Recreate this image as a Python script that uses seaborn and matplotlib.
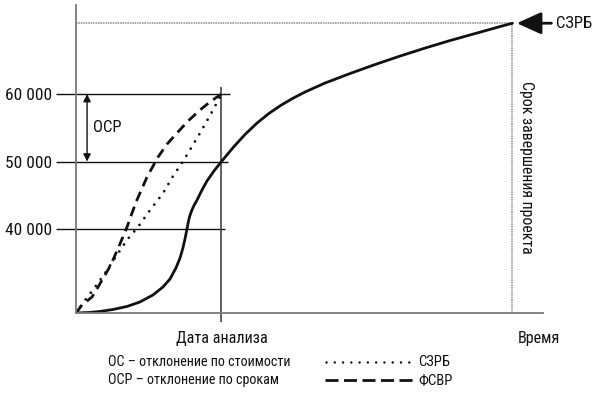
import matplotlib
matplotlib.use('Agg')
import matplotlib.pyplot as plt
from matplotlib.lines import Line2D
import seaborn as sns

# time axis: 0 = start, 10 = analysis date, 30 = planned completion
analysis_date = 10
completion = 30
budget_at_completion = 70500

solid_t = [0, 0.96, 1.65, 2.54, 3.51, 4.40, 5.29, 5.98, 6.46, 6.87, 7.15, 7.35, 7.49,
           7.60, 7.70, 7.80, 7.94, 8.11, 8.32, 8.66, 9.00, 9.48, 10, 10.79, 11.62,
           12.44, 13.26, 14.09, 14.91, 15.74, 17.11, 18.83, 20.55, 22.27, 23.99, 25.70,
           27.42, 29.14, 30]
solid_v = [27550, 27630, 27780, 28070, 28520, 29190, 30220, 31410, 32590, 34220, 35700,
           37190, 38520, 39700, 40810, 41780, 42670, 43480, 44300, 45780, 47110, 48590,
           50000, 52060, 54015, 55700, 57125, 58340, 59380, 60300, 61630, 63040, 64370,
           65630, 66815, 67925, 68960, 70000, 70500]

dashed_t = [0, 0.21, 0.41, 0.76, 1.10, 1.44, 1.79, 2.20, 2.54, 3.02, 3.51, 3.85, 4.19,
            4.88, 5.64, 6.26, 6.94, 7.70, 8.52, 9.28, 10]
dashed_v = [27550, 28150, 28740, 29330, 29930, 31110, 32440, 33930, 35410, 37780, 40300,
            42370, 44300, 47700, 50670, 52590, 54220, 56000, 57630, 58960, 60000]

dotted_t = [0, 0.48, 1.17, 1.92, 2.68, 3.5, 4.26, 5.09, 5.98, 6.67, 7.35, 8.52, 9.42, 10]
dotted_v = [27550, 29040, 31000, 33200, 35700, 38370, 40300, 42800, 45300, 47850,
            50000, 54200, 57630, 60000]

level_values = [60000, 50000, 40000]
level_labels = ['60 000', '50 000', '40 000']
level_ends = [10.6, 10.45, 10.25]

sns.set_style('white')
plt.rcParams['font.family'] = ['Roboto Condensed', 'DejaVu Sans']

fig = plt.figure(figsize=(5.97, 3.94), dpi=100)
ax = fig.add_axes([76 / 597, 1 - 313 / 394, (543 - 76) / 597, (313 - 5) / 394])
ax.set_xlim(0, 32.1)
ax.set_ylim(27550, 73200)

ink = '#111111'
axis_grey = '#7a7a7a'

# reference lines
ax.hlines(level_values, -1.4, level_ends, color=ink, lw=1, clip_on=False, zorder=1)
ax.vlines(analysis_date, 26200, 61050, color='#444444', lw=1.2, clip_on=False, zorder=1)
ax.plot([0, completion], [budget_at_completion] * 2, color='#8a8a8a', lw=1.1,
        linestyle=(0, (1, 0.6)), zorder=1)
ax.plot([completion] * 2, [27550, budget_at_completion], color='#8a8a8a', lw=1.1,
        linestyle=(0, (1, 0.6)), zorder=1)

# curves
sns.lineplot(x=solid_t, y=solid_v, ax=ax, color=ink, lw=2, sort=False, estimator=None)
sns.lineplot(x=dashed_t, y=dashed_v, ax=ax, color=ink, lw=2, sort=False, estimator=None,
             linestyle=(0, (3.6, 2.2)))
sns.lineplot(x=dotted_t, y=dotted_v, ax=ax, color=ink, lw=2, sort=False, estimator=None,
             linestyle=(0, (0.01, 3.0)), dash_capstyle='round')

# axes look
sns.despine(ax=ax)
for side in ['left', 'bottom']:
    ax.spines[side].set_color(axis_grey)
    ax.spines[side].set_linewidth(1.3)
ax.set_yticks(level_values)
ax.set_yticklabels(level_labels, fontsize=12.5, color=ink)
ax.tick_params(axis='y', length=0, pad=17)
ax.set_xticks([analysis_date, 31.8])
ax.set_xticklabels(['Дата анализа', 'Время'], fontsize=11.6, color=ink)
ax.tick_params(axis='x', length=0, pad=13)
ax.set_xlabel('')
ax.set_ylabel('')

# schedule variance arrow
ax.annotate('', xy=(0.76, 60000), xytext=(0.76, 50000),
            arrowprops=dict(arrowstyle='<|-|>', color=ink, lw=1, mutation_scale=11,
                            shrinkA=0, shrinkB=0))
ax.text(1.17, 55000, 'ОСР', fontsize=12, color=ink, va='center', ha='left')

# completion label
ax.text(31.0, 49200, 'Срок завершения проекта', rotation=270, fontsize=11.4,
        color=ink, ha='center', va='center')

# arrow to budget at completion
ax.annotate('СЗРБ', xy=(completion + 0.3, budget_at_completion), xytext=(33.0, budget_at_completion),
            fontsize=12, color=ink, va='center', ha='left', annotation_clip=False,
            arrowprops=dict(arrowstyle='-|>,head_length=0.75,head_width=0.34', color=ink,
                            lw=2, mutation_scale=20, shrinkA=1, shrinkB=0))

# legend
fig.text(108 / 597, 1 - 362 / 394, 'ОС – отклонение по стоимости', fontsize=10.2,
         color=ink, va='center', ha='left')
fig.text(108 / 597, 1 - 380 / 394, 'ОСР – отклонение по срокам', fontsize=10.2,
         color=ink, va='center', ha='left')
fig.add_artist(Line2D([326 / 597, 413 / 597], [1 - 362 / 394] * 2, color=ink, lw=1.8,
                      linestyle=(0, (0.01, 3.3)), dash_capstyle='round'))
fig.add_artist(Line2D([325 / 597, 412 / 597], [1 - 380 / 394] * 2, color=ink, lw=2,
                      linestyle=(0, (4.68, 1.98))))
fig.text(418 / 597, 1 - 362 / 394, 'СЗРБ', fontsize=10.5, color=ink, va='center', ha='left')
fig.text(418 / 597, 1 - 380 / 394, 'ФСВР', fontsize=10.5, color=ink, va='center', ha='left')

fig.savefig('out.png', dpi=100)
